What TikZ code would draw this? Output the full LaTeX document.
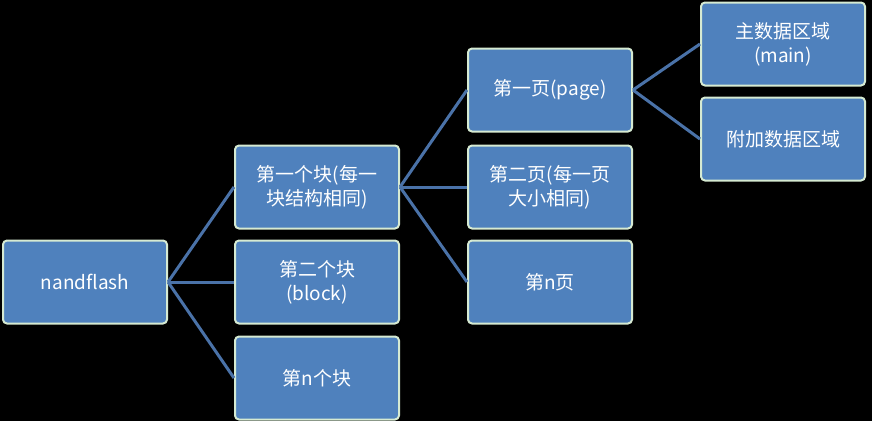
\documentclass[tikz,border=0pt]{standalone}
\usepackage{fontspec}
\setmainfont{Carlito}
\newfontfamily\cjk{Noto Sans CJK SC}
\begin{document}
\begin{tikzpicture}[x=1pt,y=-1pt,
 box/.style={draw=black!10!green!15!white,line width=2pt,fill=blue!35!cyan!40!black!70!white,rounded corners=4pt,minimum width=164pt,minimum height=83pt,text=white,align=center,font=\cjk\fontsize{19}{24}\selectfont,inner sep=2pt},
 con/.style={draw=blue!40!cyan!50!black!80!white,line width=3pt}]
\fill[black] (0,0) rectangle (872,421);
\useasboundingbox (0,0) rectangle (872,421);
\tikzset{box/.append style={fill={rgb,255:red,79;green,129;blue,189},draw={rgb,255:red,214;green,234;blue,210}},
 con/.append style={draw={rgb,255:red,74;green,114;blue,168}}}
\node[box] (nf) at (85,282) {nandflash};
\node[box] (b1) at (317,187) {第一个块(每一\\块结构相同)};
\node[box] (b2) at (317,282) {第二个块\\(block)};
\node[box] (bn) at (317,378) {第n个块};
\node[box] (p1) at (550,90) {第一页(page)};
\node[box] (p2) at (550,187) {第二页(每一页\\大小相同)};
\node[box] (pn) at (550,282) {第n页};
\node[box] (m) at (783,44) {主数据区域\\(main)};
\node[box] (s) at (783,139) {附加数据区域};
\foreach \c in {b1,b2,bn} \draw[con] (nf.east) -- (\c.west);
\foreach \c in {p1,p2,pn} \draw[con] (b1.east) -- (\c.west);
\foreach \c in {m,s} \draw[con] (p1.east) -- (\c.west);
\end{tikzpicture}
\end{document}
